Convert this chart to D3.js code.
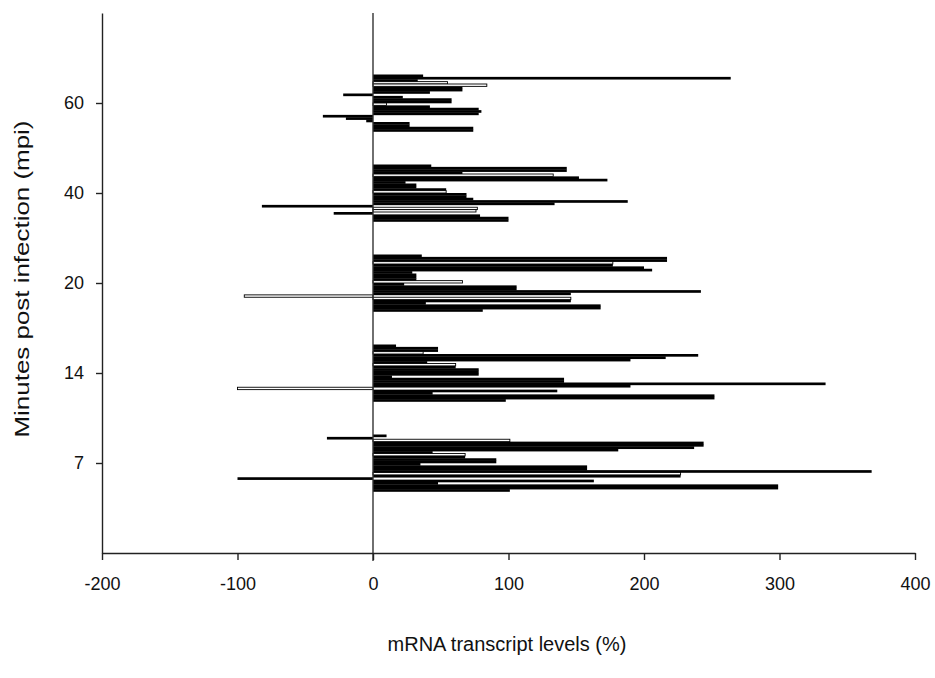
<!DOCTYPE html>
<html>
<head>
<meta charset="utf-8">
<script src="https://cdn.jsdelivr.net/npm/d3@7"></script>
<style>
  body { margin: 0; background: #fff; }
  text { font-family: Arial, "Liberation Sans", sans-serif; fill: #111; }
</style>
</head>
<body>
<svg id="chart" width="935" height="678"></svg>
<script>
// Time points (minutes post infection), bottom to top
const categories = [7, 14, 20, 40, 60];

// Relative transcript level (%) of each gene at every time point, listed top to bottom
const mpi7  = [10, -34, 101, 244, 244, 237, 181, 44, 68, 68, 91, 91, 35, 158, 158, 368, 227, 227, -100, 163, 48, 299, 299, 101];
const mpi14 = [17, 48, 48, 37, 240, 216, 190, 40, 61, 61, 78, 78, 78, 14, 141, 141, 334, 190, -100, 136, 44, 252, 252, 98];
const mpi20 = [36, 217, 217, 177, 177, 200, 206, 29, 32, 32, 32, 66, 23, 106, 106, 242, 146, -95, 146, 146, 39, 168, 168, 81];
const mpi40 = [43, 143, 143, 66, 133, 152, 173, 24, 32, 32, 54, 54, 69, 69, 74, 188, 134, -82, 77, 76, -29, 79, 100, 100];
const mpi60 = [37, 264, 33, 55, 84, 66, 66, 42, -22, 22, 58, 58, 10, 42, 78, 80, 78, -37, -20, -5, 27, 27, 74, 74];

// Genes of the second transcript set, drawn as open bars
const open7  = [2, 8, 16];
const open14 = [3, 8, 18];
const open20 = [3, 11, 17, 18];
const open40 = [4, 11, 18, 19];
const open60 = [3, 4, 12];

const xTicks = [-200, -100, 0, 100, 200, 300, 400];
const xTitle = "mRNA transcript levels (%)";
const yTitle = "Minutes post infection (mpi)";

const seriesByTime = new Map([
  [7,  { values: mpi7,  open: open7 }],
  [14, { values: mpi14, open: open14 }],
  [20, { values: mpi20, open: open20 }],
  [40, { values: mpi40, open: open40 }],
  [60, { values: mpi60, open: open60 }]
]);

const svg = d3.select("#chart");
const plot = { left: 102, right: 915, top: 13, bottom: 553 };

const x = d3.scaleLinear().domain([-200, 400]).range([plot.left, plot.right]);
const y = d3.scalePoint().domain(categories).range([plot.bottom, plot.top]).padding(1);

const groupHeight = 57;

// Bars
categories.forEach(c => {
  const { values, open } = seriesByTime.get(c);
  const cy = y(c);
  const inner = d3.scaleBand()
    .domain(d3.range(values.length))
    .range([cy - groupHeight / 2, cy + groupHeight / 2])
    .paddingInner(0);
  const g = svg.append("g").attr("class", "group");
  const rows = values.map((v, i) => ({ v, i, isOpen: open.includes(i) }));
  g.selectAll("rect.solid")
    .data(rows.filter(d => !d.isOpen))
    .join("rect")
    .attr("class", "solid")
    .attr("x", d => x(Math.min(0, d.v)))
    .attr("width", d => Math.abs(x(d.v) - x(0)))
    .attr("y", d => inner(d.i))
    .attr("height", inner.bandwidth() + 0.3)
    .attr("fill", "#000");
  g.selectAll("rect.open")
    .data(rows.filter(d => d.isOpen))
    .join("rect")
    .attr("class", "open")
    .attr("x", d => x(Math.min(0, d.v)))
    .attr("width", d => Math.abs(x(d.v) - x(0)))
    .attr("y", d => inner(d.i))
    .attr("height", inner.bandwidth())
    .attr("fill", "#fff")
    .attr("stroke", "#000")
    .attr("stroke-width", 0.9);
});

// Zero line
svg.append("line")
  .attr("x1", x(0)).attr("x2", x(0))
  .attr("y1", plot.top).attr("y2", plot.bottom + 8)
  .attr("stroke", "#333").attr("stroke-width", 1.4);

// X axis (plain hyphen for negative labels)
const xAxis = svg.append("g")
  .attr("transform", `translate(0,${plot.bottom})`)
  .call(d3.axisBottom(x).tickValues(xTicks).tickFormat(d => String(d))
    .tickSize(7).tickSizeOuter(0).tickPadding(17));
xAxis.select(".domain").attr("stroke", "#222").attr("stroke-width", 1.4);
xAxis.selectAll(".tick line").attr("stroke", "#222").attr("stroke-width", 1.4);
xAxis.selectAll(".tick text").style("font-size", "18px").attr("fill", "#111");

// Y axis
const yAxis = svg.append("g")
  .attr("transform", `translate(${plot.left},0)`)
  .call(d3.axisLeft(y).tickSize(6).tickSizeOuter(0).tickPadding(12));
yAxis.select(".domain").attr("stroke", "#222").attr("stroke-width", 1.4);
yAxis.selectAll(".tick line").attr("stroke", "#222").attr("stroke-width", 1.4);
yAxis.selectAll(".tick text").style("font-size", "18px").attr("fill", "#111");

// Axis titles
svg.append("text")
  .attr("x", 507).attr("y", 651)
  .attr("text-anchor", "middle")
  .style("font-size", "20px")
  .text(xTitle);

svg.append("text")
  .attr("transform", "translate(29,279) rotate(-90)")
  .attr("text-anchor", "middle")
  .attr("textLength", 317)
  .attr("lengthAdjust", "spacingAndGlyphs")
  .style("font-size", "21px")
  .text(yTitle);
</script>
</body>
</html>
